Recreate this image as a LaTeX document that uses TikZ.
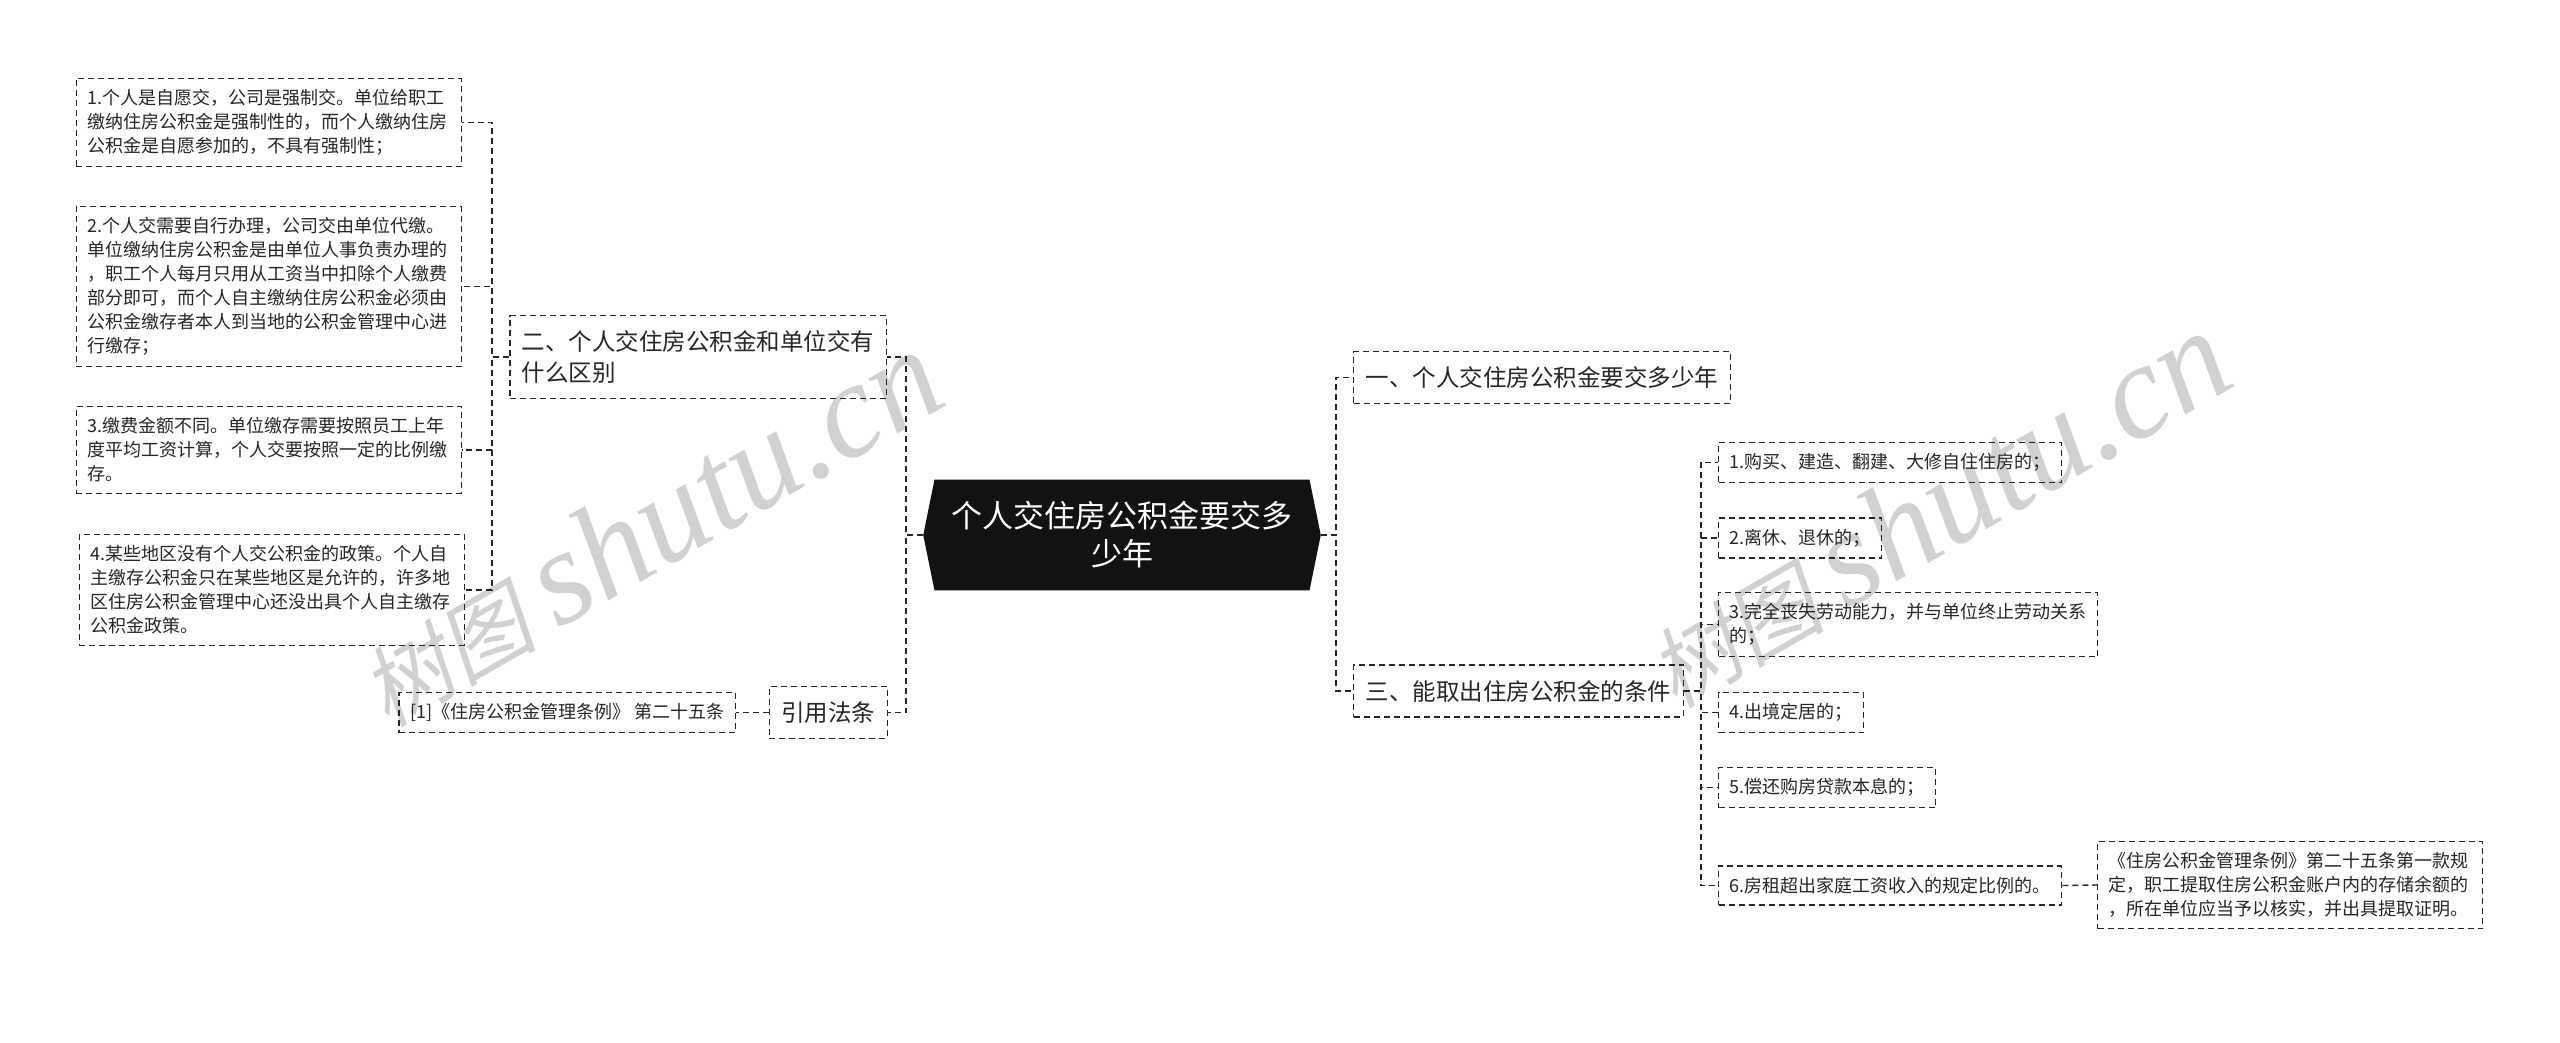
\documentclass[tikz,border=0pt]{standalone}
\usepackage{fontspec}
\setmainfont{Noto Sans CJK SC}
\newfontfamily\markcjk[FakeSlant=0.2]{Noto Sans CJK SC}
\newfontfamily\marklatin{Liberation Serif}
\usetikzlibrary{shapes.symbols}

\tikzset{
  dashline/.style={dash pattern=on 6pt off 4pt, line width=1.4pt, draw=black!85},
  hubbox/.style={signal, signal to=east and west, signal pointer angle=157, fill=black!93, text=white, align=center, inner xsep=17pt, inner ysep=22pt, font=\fontsize{31}{38}\selectfont},
  topicbox/.style={draw, dashline, text=black!85, align=left, inner xsep=12pt, inner ysep=15pt, font=\fontsize{23.5}{31}\selectfont},
  itembox/.style={draw, dashline, text=black!85, align=left, inner xsep=11pt, inner ysep=11pt, font=\fontsize{18}{24}\selectfont},
  widebox/.style={itembox, text width=363pt},
  linkline/.style={dashline},
  wmark/.style={text=black!18, rotate=30, inner sep=0pt}
}

\begin{document}
\begin{tikzpicture}[x=1pt,y=-1pt]
\fill[white] (0,0) rectangle (2560,1042);
\useasboundingbox (0,0) rectangle (2560,1042);

% watermarks
\node[wmark] (mark1) at (648,528) {{\markcjk\fontsize{88}{88}\selectfont 树图}\hspace{22pt}{\marklatin\itshape\fontsize{135}{135}\selectfont shutu.cn}};
\node[wmark] (mark2) at (1936,509) {{\markcjk\fontsize{88}{88}\selectfont 树图}\hspace{22pt}{\marklatin\itshape\fontsize{135}{135}\selectfont shutu.cn}};

\node[hubbox] (hub) at (1122,535) {个人交住房公积金要交多\\少年};

% right side
\node[topicbox, anchor=west] (t1) at (1353,377.5) {一、个人交住房公积金要交多少年};
\node[topicbox, anchor=west] (t3) at (1353,691) {三、能取出住房公积金的条件};

\node[itembox, anchor=west] (c1) at (1718,462.5) {1.购买、建造、翻建、大修自住住房的；};
\node[itembox, anchor=west] (c2) at (1718,538) {2.离休、退休的；};
\node[itembox, anchor=west] (c3) at (1718,624.5) {3.完全丧失劳动能力，并与单位终止劳动关系\\的；};
\node[itembox, anchor=west] (c4) at (1718,712.5) {4.出境定居的；};
\node[itembox, anchor=west] (c5) at (1718,787.5) {5.偿还购房贷款本息的；};
\node[itembox, anchor=west] (c6) at (1718,885.5) {6.房租超出家庭工资收入的规定比例的。};
\node[widebox, anchor=west] (note) at (2097,885) {《住房公积金管理条例》第二十五条第一款规\\定，职工提取住房公积金账户内的存储余额的\\，所在单位应当予以核实，并出具提取证明。};

% left side
\node[topicbox, anchor=east] (t2) at (887,357) {二、个人交住房公积金和单位交有\\什么区别};
\node[topicbox, anchor=east] (cite) at (888,712.5) {引用法条};
\node[itembox, anchor=east] (ref) at (736,712.5) {[1]《住房公积金管理条例》 第二十五条};

\node[widebox, anchor=east] (l1) at (462,122.5) {1.个人是自愿交，公司是强制交。单位给职工\\缴纳住房公积金是强制性的，而个人缴纳住房\\公积金是自愿参加的，不具有强制性；};
\node[widebox, anchor=east] (l2) at (462,286.5) {2.个人交需要自行办理，公司交由单位代缴。\\单位缴纳住房公积金是由单位人事负责办理的\\，职工个人每月只用从工资当中扣除个人缴费\\部分即可，而个人自主缴纳住房公积金必须由\\公积金缴存者本人到当地的公积金管理中心进\\行缴存；};
\node[widebox, anchor=east] (l3) at (462,450) {3.缴费金额不同。单位缴存需要按照员工上年\\度平均工资计算，个人交要按照一定的比例缴\\存。};
\node[widebox, anchor=east] (l4) at (465,590) {4.某些地区没有个人交公积金的政策。个人自\\主缴存公积金只在某些地区是允许的，许多地\\区住房公积金管理中心还没出具个人自主缴存\\公积金政策。};

% connectors
\foreach \c in {t1,t3}
  \draw[linkline] (hub.east) -- ++(15,0) |- (\c.west);
\foreach \c in {t2,cite}
  \draw[linkline] (hub.west) -- ++(-17,0) |- (\c.east);
\foreach \c in {l1,l2,l3,l4}
  \draw[linkline] (t2.west) -- ++(-17,0) |- (\c.east);
\foreach \c in {c1,c2,c3,c4,c5,c6}
  \draw[linkline] (t3.east) -- ++(17,0) |- (\c.west);
\draw[linkline] (c6.east) -- (note.west);
\draw[linkline] (cite.west) -- (ref.east);
\end{tikzpicture}
\end{document}
